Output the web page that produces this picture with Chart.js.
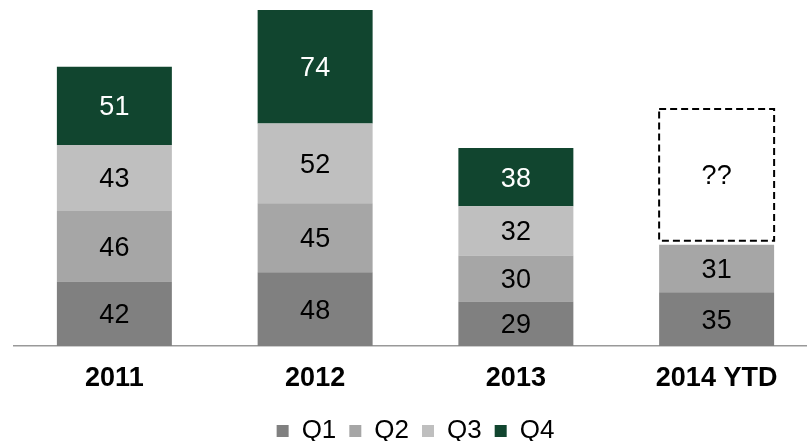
<!DOCTYPE html>
<html>
<head>
<meta charset="utf-8">
<title>Quarterly totals</title>
<script src="https://cdn.jsdelivr.net/npm/chart.js@4/dist/chart.umd.min.js"></script>
<style>
    html, body { margin: 0; padding: 0; background: #fff; overflow: hidden; }
    #wrap { width: 818px; height: 441px; }
</style>
</head>
<body>
<div id="wrap"><canvas id="quarterChart" width="818" height="441"></canvas></div>
<script>
// Chart data
const years = ["2011", "2012", "2013", "2014 YTD"];
const q1 = [42, 48, 29, 35];
const q2 = [46, 45, 30, 31];
const q3 = [43, 52, 32, null];
const q4 = [51, 74, 38, null];
// placeholder for the rest of 2014 (unknown yet)
const pending = [null, null, null, 88.5];
const pendingText = "??";

const colors = {
    q1: "#808080",
    q2: "#a6a6a6",
    q3: "#bfbfbf",
    q4: "#11452f"
};

const FONT = "'Liberation Sans', Arial, sans-serif";

// Value labels inside each segment + dashed box for the pending part
const segmentLabels = {
    id: "segmentLabels",
    afterDatasetsDraw(chart) {
        const ctx = chart.ctx;
        ctx.save();
        ctx.font = "27px " + FONT;
        ctx.textAlign = "center";
        ctx.textBaseline = "middle";

        chart.data.datasets.forEach((ds, i) => {
            const meta = chart.getDatasetMeta(i);
            meta.data.forEach((bar, j) => {
                const v = ds.data[j];
                if (v === null || v === undefined) return;
                const { x, y, base, width } = bar.getProps(["x", "y", "base", "width"], true);

                if (ds.isPending) {
                    // dashed outline, sitting a little above the stack
                    ctx.setLineDash([7, 4]);
                    ctx.lineWidth = 2;
                    ctx.strokeStyle = "#000";
                    ctx.strokeRect(x - width / 2, y, width, base - y - 4);
                    ctx.setLineDash([]);
                    ctx.fillStyle = "#000";
                    ctx.fillText(pendingText, x, (y + base - 4) / 2 + 2);
                    return;
                }

                ctx.fillStyle = ds.labelColor;
                ctx.fillText(String(v), x, (y + base) / 2 + 2);
            });
        });
        ctx.restore();
    }
};

function makeSet(label, data, color, labelColor) {
    return {
        label: label,
        data: data,
        backgroundColor: color,
        borderWidth: 0,
        labelColor: labelColor,
        categoryPercentage: 0.8,
        barPercentage: 0.716
    };
}

const ctx = document.getElementById("quarterChart").getContext("2d");

new Chart(ctx, {
    type: "bar",
    data: {
        labels: years,
        datasets: [
            makeSet("Q1", q1, colors.q1, "#000"),
            makeSet("Q2", q2, colors.q2, "#000"),
            makeSet("Q3", q3, colors.q3, "#000"),
            makeSet("Q4", q4, colors.q4, "#fff"),
            Object.assign(makeSet("TBD", pending, "rgba(0,0,0,0)", "#000"), { isPending: true })
        ]
    },
    options: {
        responsive: false,
        animation: false,
        layout: { padding: { top: 0, left: 14, right: 1, bottom: -13 } },
        scales: {
            x: {
                stacked: true,
                grid: { display: false, drawTicks: false },
                border: { display: true, color: "#999999", width: 1.5 },
                ticks: {
                    padding: 16,
                    maxRotation: 0,
                    color: "#000",
                    font: { family: FONT, size: 27, weight: "bold" }
                },
                // fixed band for the year labels
                afterFit: scale => { scale.height = 59; }
            },
            y: {
                stacked: true,
                display: false,
                min: 0,
                max: 225.5
            }
        },
        plugins: {
            legend: {
                position: "bottom",
                labels: {
                    boxWidth: 12,
                    boxHeight: 12,
                    padding: 13,
                    color: "#000",
                    font: { family: FONT, size: 26 },
                    filter: item => item.text !== "TBD"
                }
            },
            tooltip: { enabled: false }
        }
    },
    plugins: [segmentLabels]
});
</script>
</body>
</html>
